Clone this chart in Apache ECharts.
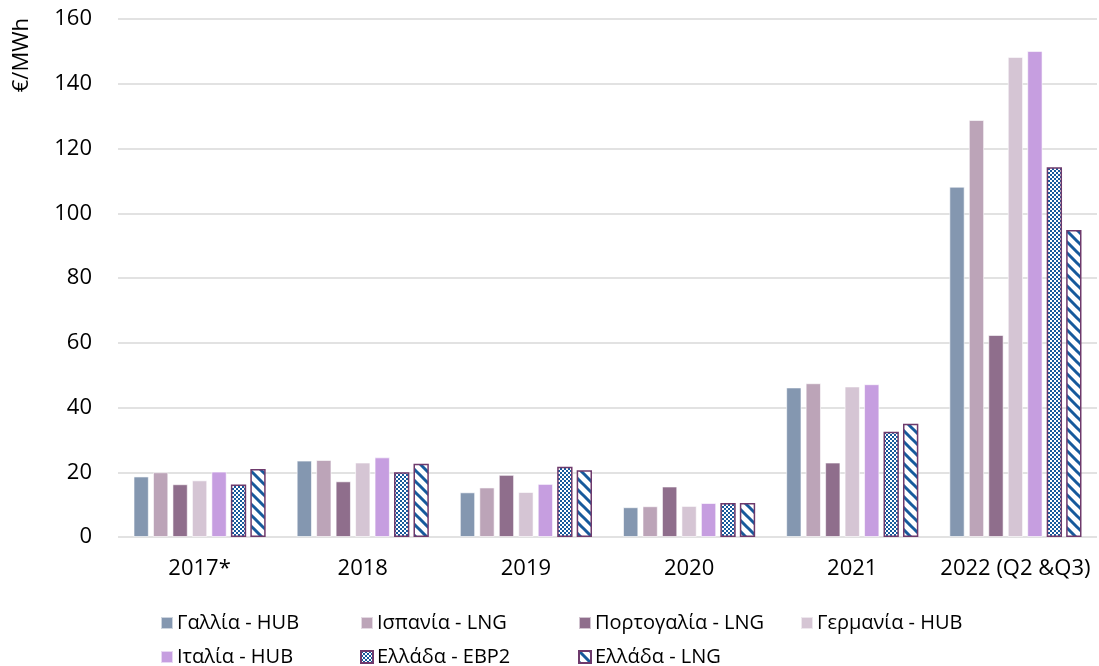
<!DOCTYPE html>
<html>
<head>
<meta charset="utf-8">
<script src="https://cdn.jsdelivr.net/npm/echarts@6/dist/echarts.min.js"></script>
<style>
  html, body { margin: 0; padding: 0; background: #fff; }
  #chart { width: 1099px; height: 666px; }
</style>
</head>
<body>
<div id="chart"></div>
<script>
// Gas prices by market, €/MWh
const categories = ['2017*', '2018', '2019', '2020', '2021', '2022 (Q2 &Q3)'];
const seriesNames = ['Γαλλία - HUB', 'Ισπανία - LNG', 'Πορτογαλία - LNG', 'Γερμανία - HUB', 'Ιταλία - HUB', 'Ελλάδα - EBP2', 'Ελλάδα - LNG'];
const franceHub   = [18.7, 23.6, 13.8,  9.2, 46.2, 108.2];
const spainLng    = [20.0, 23.8, 15.3,  9.5, 47.5, 128.8];
const portugalLng = [16.3, 17.2, 19.2, 15.6, 23.0,  62.4];
const germanyHub  = [17.5, 23.0, 13.9,  9.6, 46.5, 148.3];
const italyHub    = [20.2, 24.6, 16.4, 10.5, 47.2, 150.1];
const greeceEbp2  = [16.2, 20.0, 21.7, 10.5, 32.5, 114.2];
const greeceLng   = [21.0, 22.6, 20.6, 10.5, 35.0,  94.8];
const yTicks = [0, 20, 40, 60, 80, 100, 120, 140, 160];

const seriesValues = [franceHub, spainLng, portugalLng, germanyHub, italyHub, greeceEbp2, greeceLng];

const NAVY = '#175a9c';
const BORDER = '#6e3a6c';

function checkerPattern() {
  const c = document.createElement('canvas');
  c.width = 4; c.height = 4;
  const g = c.getContext('2d');
  g.fillStyle = '#ffffff'; g.fillRect(0, 0, 4, 4);
  g.fillStyle = NAVY;
  g.fillRect(0, 0, 2, 2);
  g.fillRect(2, 2, 2, 2);
  return { image: c, repeat: 'repeat' };
}

function stripePattern() {
  const s = 11;
  const c = document.createElement('canvas');
  c.width = s; c.height = s;
  const g = c.getContext('2d');
  g.fillStyle = '#ffffff'; g.fillRect(0, 0, s, s);
  g.strokeStyle = NAVY; g.lineWidth = 3;
  g.beginPath();
  g.moveTo(-s, -s); g.lineTo(2 * s, 2 * s);
  g.moveTo(-s, 0); g.lineTo(s, 2 * s);
  g.moveTo(0, -s); g.lineTo(2 * s, s);
  g.stroke();
  return { image: c, repeat: 'repeat' };
}

const fills = ['#8497b0', '#bca4b8', '#8f6e8c', '#d5c5d4', '#c69ee0', checkerPattern(), stripePattern()];

const FONT = 'Open Sans';

const series = seriesNames.map((name, i) => {
  const patterned = i >= 5;
  return {
    name: name,
    type: 'bar',
    data: seriesValues[i],
    barGap: '27%',
    barCategoryGap: '19%',
    itemStyle: {
      color: fills[i],
      borderColor: patterned ? BORDER : 'rgba(255,255,255,0.6)',
      borderWidth: patterned ? 1.5 : 1
    },
    emphasis: { disabled: true }
  };
});

// Legend laid out as a fixed two-row grid
const legendPos = [
  [160, 613], [360, 613], [578, 613], [800, 613],
  [160, 647], [360, 647], [578, 647]
];
const legends = seriesNames.map((name, i) => ({
  data: [name],
  left: legendPos[i][0],
  top: legendPos[i][1],
  padding: 0,
  itemWidth: 12,
  itemHeight: 12,
  itemGap: 4,
  icon: 'rect',
  selectedMode: false,
  textStyle: { fontFamily: FONT, fontSize: 20, color: '#000', padding: [0, 0, 0, -1] }
}));

const chart = echarts.init(document.getElementById('chart'), null, { renderer: 'canvas' });
chart.setOption({
  animation: false,
  backgroundColor: '#ffffff',
  grid: { left: 118, right: 2, top: 19, bottom: 129, containLabel: false },
  legend: legends,
  graphic: [{
    type: 'text',
    left: 11,
    top: 18,
    rotation: Math.PI / 2,
    style: { text: '€/MWh', font: '22px "' + FONT + '"', fill: '#000' }
  }],
  xAxis: {
    type: 'category',
    data: categories,
    axisLine: { show: false },
    axisTick: { show: false },
    axisLabel: { interval: 0, fontFamily: FONT, fontSize: 22, color: '#000', margin: 21 }
  },
  yAxis: {
    type: 'value',
    min: yTicks[0],
    max: yTicks[yTicks.length - 1],
    interval: 20,
    axisLine: { show: false },
    axisTick: { show: false },
    splitLine: { lineStyle: { color: '#d9d9d9', width: 1.5 } },
    axisLabel: { fontFamily: FONT, fontSize: 22, color: '#000', margin: 26 }
  },
  series: series
});
</script>
</body>
</html>
